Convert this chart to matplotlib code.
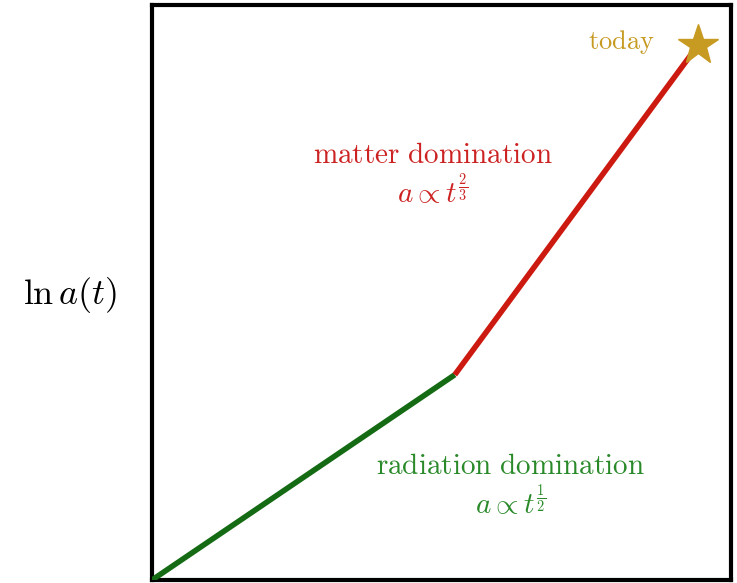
import matplotlib
matplotlib.use("Agg")
import matplotlib.pyplot as plt

plt.rcParams['mathtext.fontset'] = 'cm'

# ln t (scaled) and ln a(t) at the start, the radiation/matter break and today
ln_t_rad = [0.0, 0.523]
ln_a_rad = [0.0, 0.357]
ln_t_mat = [0.523, 0.943]
ln_a_mat = [0.357, 0.930]
today_t, today_a = 0.943, 0.930

green_line = '#146b14'
red_line = '#cc1a10'
gold = '#c79a22'

fig = plt.figure(figsize=(7.37, 5.83), dpi=100)
ax = fig.add_axes([0.2062, 0.0051, 0.7856, 0.9863])

ax.plot(ln_t_rad, ln_a_rad, color=green_line, lw=4, solid_capstyle='butt', zorder=3)
ax.plot(ln_t_mat, ln_a_mat, color=red_line, lw=4, solid_capstyle='butt', zorder=3)
ax.plot([today_t], [today_a], marker='*', ms=30, color=gold, mec=gold, zorder=4)

ax.text(0.485, 0.74, r'$\mathrm{matter\ domination}$', color='#cc2222',
        fontsize=21, ha='center', va='center')
ax.text(0.485, 0.675, r'$a \propto t^{\frac{2}{3}}$', color='#cc2222',
        fontsize=21, ha='center', va='center')
ax.text(0.62, 0.198, r'$\mathrm{radiation\ domination}$', color='#2a8a2a',
        fontsize=21, ha='center', va='center')
ax.text(0.62, 0.135, r'$a \propto t^{\frac{1}{2}}$', color='#2a8a2a',
        fontsize=21, ha='center', va='center')
ax.text(0.81, 0.935, r'$\mathrm{today}$', color=gold,
        fontsize=19, ha='center', va='center')

fig.text(70 / 737, 1 - 295 / 583, r'$\ln a(t)$', fontsize=26,
         ha='center', va='center')

ax.set_xlim(0, 1)
ax.set_ylim(0, 1)
ax.set_xticks([])
ax.set_yticks([])
for s in ax.spines.values():
    s.set_linewidth(3)

fig.savefig('out.png', dpi=100)
